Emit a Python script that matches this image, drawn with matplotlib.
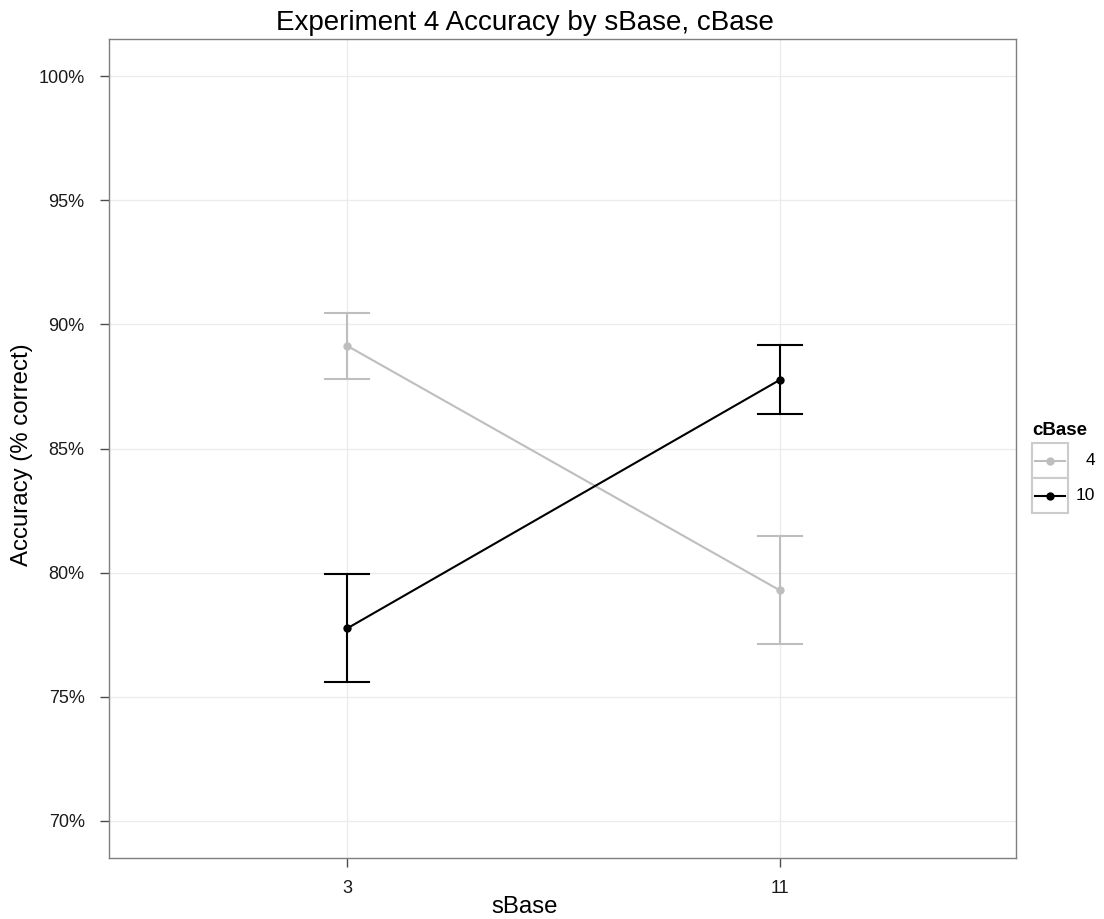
import matplotlib
matplotlib.use("Agg")
import matplotlib.pyplot as plt
from matplotlib.patches import Rectangle
from matplotlib.lines import Line2D

# Accuracy (% correct) by sBase level, one series per cBase level
sbase_levels = ["3", "11"]
cbase_levels = ["4", "10"]
mean_acc = {
    "4": [89.14, 79.28],
    "10": [77.75, 87.77],
}
err_low = {
    "4": [87.81, 77.12],
    "10": [75.59, 86.38],
}
err_high = {
    "4": [90.46, 81.47],
    "10": [79.94, 89.18],
}
series_colors = {"4": "#BEBEBE", "10": "#000000"}
y_ticks = [70, 75, 80, 85, 90, 95, 100]

FONT = "Liberation Sans"
plt.rcParams["font.family"] = [FONT, "DejaVu Sans"]

W, H = 1104, 919
fig = plt.figure(figsize=(W / 100, H / 100), dpi=100)
left_px, right_px, top_px, bot_px = 109, 1016, 39, 858
ax = fig.add_axes([left_px / W, 1 - bot_px / H,
                   (right_px - left_px) / W, (bot_px - top_px) / H])


def fx(px):
    return px / W


def fy(py):
    return 1 - py / H


xpos = list(range(len(sbase_levels)))
cap_half = 0.05
lw = 1.5

for lvl in cbase_levels:
    c = series_colors[lvl]
    ax.plot(xpos, mean_acc[lvl], color=c, lw=lw, zorder=3,
            solid_capstyle="butt")
    for x, lo, hi in zip(xpos, err_low[lvl], err_high[lvl]):
        ax.plot([x, x], [lo, hi], color=c, lw=lw, zorder=3)
        ax.plot([x - cap_half, x + cap_half], [lo, lo], color=c, lw=lw, zorder=3)
        ax.plot([x - cap_half, x + cap_half], [hi, hi], color=c, lw=lw, zorder=3)
    ax.plot(xpos, mean_acc[lvl], "o", color=c, ms=6, mec="none", zorder=4)

ax.set_xlim(-0.55, 1.545)
ax.set_ylim(68.5, 101.5)
ax.set_xticks(xpos)
ax.set_xticklabels(sbase_levels)
ax.set_yticks(y_ticks)
ax.set_yticklabels([f"{v}%" for v in y_ticks])

ax.grid(True, color="#EBEBEB", lw=0.9, zorder=0)
ax.set_axisbelow(True)
for sp in ax.spines.values():
    sp.set_color("#7F7F7F")
    sp.set_linewidth(1.0)
ax.tick_params(axis="both", length=6.5, width=1.0, color="#4D4D4D",
               labelsize=13, labelcolor="#1A1A1A")
ax.tick_params(axis="y", pad=11)
ax.tick_params(axis="x", pad=9.5)

# axis titles and plot title
fig.text(fx(525), fy(913), "sBase", fontsize=17.3, ha="center", va="baseline")
fig.text(fx(22.5), fy(455), "Accuracy (% correct)", fontsize=17.3,
         rotation=90, ha="center", va="center")
fig.text(fx(525), fy(23), "Experiment 4 Accuracy by sBase, cBase",
         ha="center", va="center", fontsize=20)

# legend
fig.text(fx(1032), fy(430), "cBase", fontsize=13.5, fontweight="bold",
         ha="left", va="center")
key_top = 443
key_h = 35
for i, lvl in enumerate(cbase_levels):
    y0 = key_top + i * key_h
    fig.patches.append(Rectangle((fx(1032), fy(y0 + key_h)), fx(36), key_h / H,
                                 transform=fig.transFigure, facecolor="white",
                                 edgecolor="#CCCCCC", lw=1.5))
    yc = fy(y0 + key_h / 2)
    c = series_colors[lvl]
    fig.lines.append(Line2D([fx(1035), fx(1065)], [yc, yc], color=c, lw=lw,
                            transform=fig.transFigure))
    fig.lines.append(Line2D([fx(1050)], [yc], marker="o", ms=6, color=c,
                            mec="none", transform=fig.transFigure))
    fig.text(fx(1095), yc, lvl, fontsize=12.5, ha="right", va="center")

fig.savefig("out.png", dpi=100)
